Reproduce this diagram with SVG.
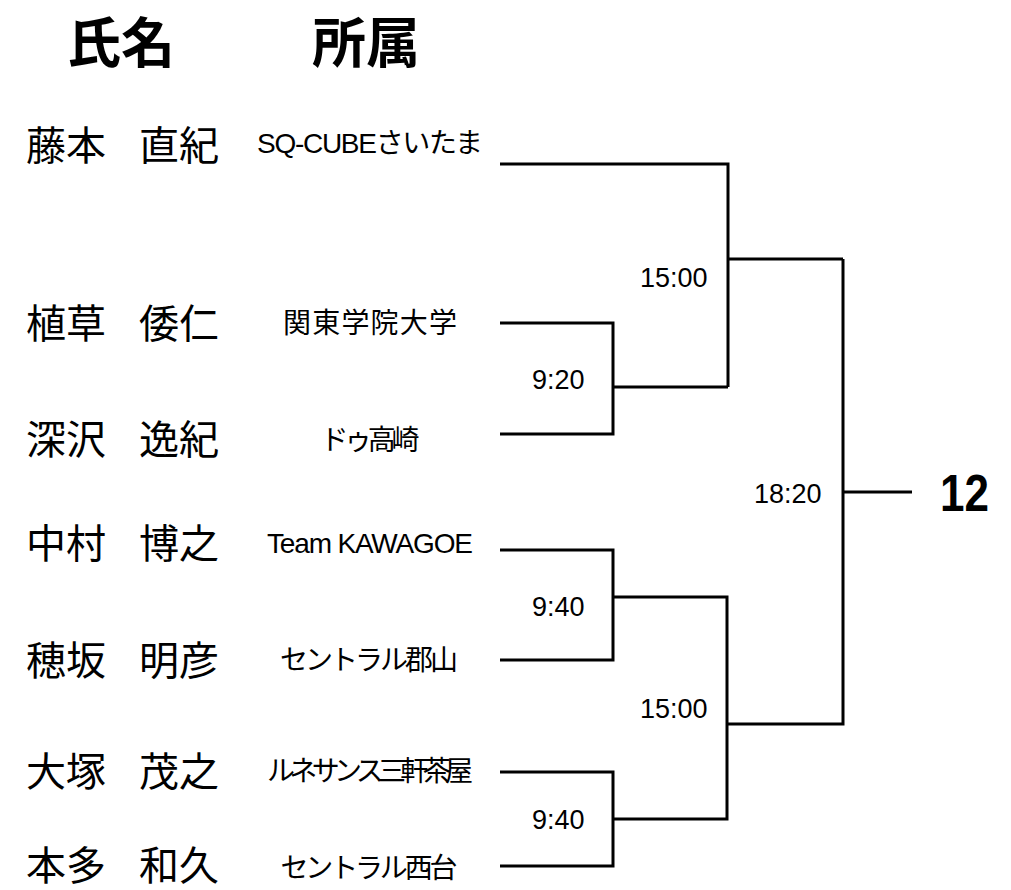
<svg xmlns="http://www.w3.org/2000/svg" width="1011" height="890" viewBox="0 0 1011 890">
<style>
.hd{font-family:"Noto Sans CJK JP","Liberation Sans",sans-serif;font-size:54px;font-weight:bold;fill:#000}
.nm{font-family:"Noto Sans CJK JP",sans-serif;font-size:40px;fill:#000}
.af{font-family:"Liberation Sans","Noto Sans CJK JP",sans-serif;font-size:28px;fill:#000;text-anchor:middle}
.tm{font-family:"Liberation Sans",sans-serif;font-size:27px;fill:#000}
.ln{fill:none;stroke:#000;stroke-width:3;stroke-linejoin:miter;stroke-linecap:butt}
</style>
<rect width="1011" height="890" fill="#fff"/>
<g id="header">
<text class="hd" x="67" y="63">氏名</text>
<text class="hd" x="312" y="63">所属</text>
</g>
<g id="p1"><text class="nm" x="26" y="160">藤本</text><text class="nm" x="139" y="160">直紀</text><text class="af" x="370" y="153" font-size="26" textLength="226">SQ-CUBEさいたま</text></g>
<g id="p2"><text class="nm" x="26" y="338">植草</text><text class="nm" x="139" y="338">倭仁</text><text class="af" x="370" y="333" textLength="174">関東学院大学</text></g>
<g id="p3"><text class="nm" x="26" y="454">深沢</text><text class="nm" x="139" y="454">逸紀</text><text class="af" x="370" y="450" textLength="99">ドゥ高崎</text></g>
<g id="p4"><text class="nm" x="26" y="558">中村</text><text class="nm" x="139" y="558">博之</text><text class="af" x="370" y="553" font-size="25" textLength="206">Team KAWAGOE</text></g>
<g id="p5"><text class="nm" x="26" y="675">穂坂</text><text class="nm" x="139" y="675">明彦</text><text class="af" x="369" y="670" textLength="178">セントラル郡山</text></g>
<g id="p6"><text class="nm" x="26" y="786">大塚</text><text class="nm" x="139" y="786">茂之</text><text class="af" x="370" y="781" font-size="23" textLength="206">ルネサンス三軒茶屋</text></g>
<g id="p7"><text class="nm" x="26" y="880">本多</text><text class="nm" x="139" y="880">和久</text><text class="af" x="369" y="878" textLength="177">セントラル西台</text></g>
<g id="connectors">
<path class="ln" d="M500,323 H613 V434 H500"/>
<path class="ln" d="M613,387 H728"/>
<path class="ln" d="M500,164 H728 V387"/>
<path class="ln" d="M728,259 H843"/>
<path class="ln" d="M500,550 H613 V660 H500"/>
<path class="ln" d="M500,772 H613 V866 H500"/>
<path class="ln" d="M613,597 H727 V819 H613"/>
<path class="ln" d="M727,724 H843 V259"/>
<path class="ln" d="M843,492 H912"/>
</g>
<g id="times">
<text class="tm" x="640" y="287">15:00</text>
<text class="tm" x="532" y="389">9:20</text>
<text class="tm" x="754" y="503">18:20</text>
<text class="tm" x="532" y="616">9:40</text>
<text class="tm" x="640" y="718">15:00</text>
<text class="tm" x="532" y="829">9:40</text>
</g>
<g id="result"><text x="940" y="511" font-family="Liberation Sans,sans-serif" font-size="52" font-weight="bold" textLength="49" lengthAdjust="spacingAndGlyphs">12</text></g>
</svg>
